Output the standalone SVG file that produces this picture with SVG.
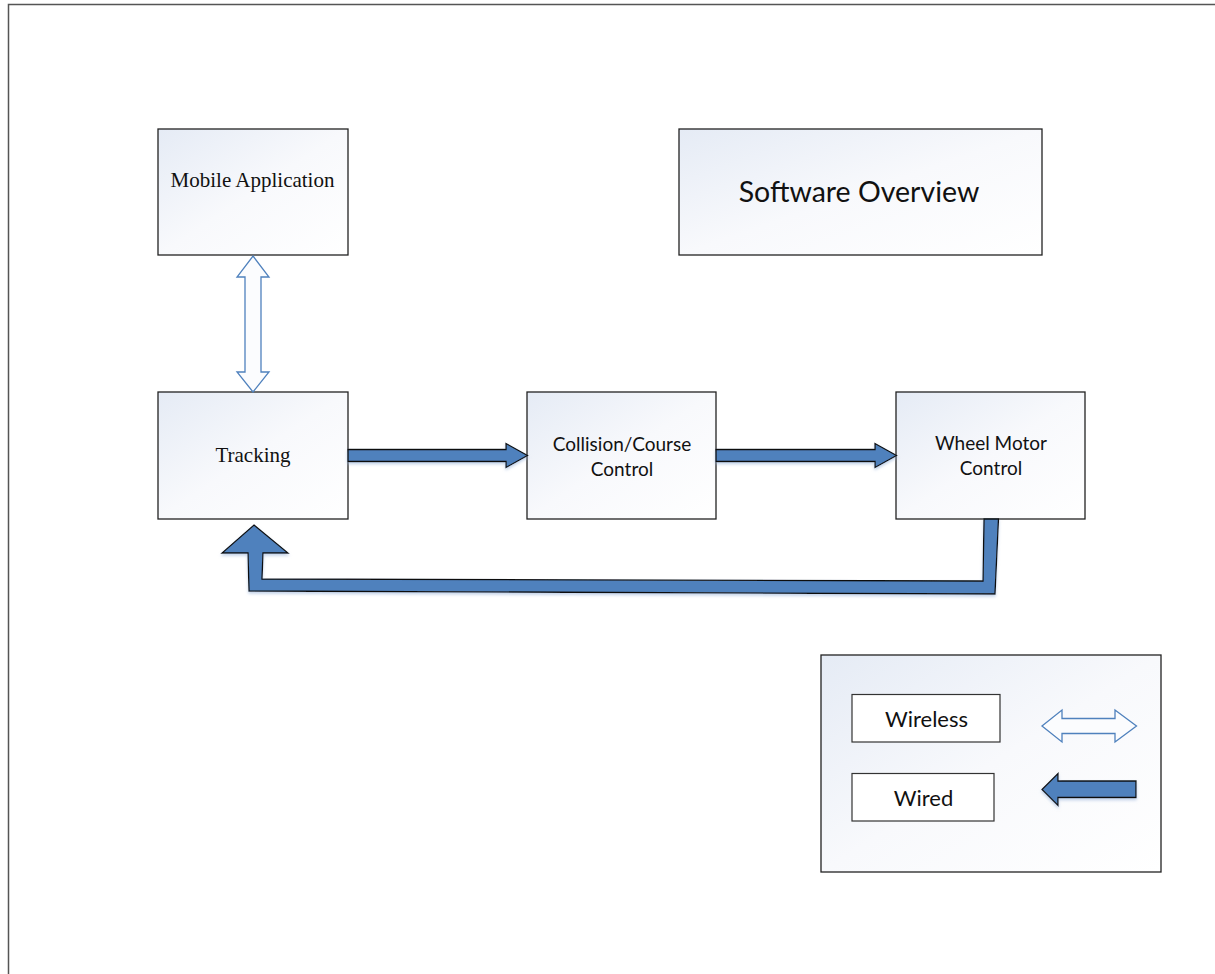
<svg xmlns="http://www.w3.org/2000/svg" width="1215" height="974" viewBox="0 0 1215 974">
<defs>
<linearGradient id="bg" x1="0" y1="0" x2="1" y2="1">
<stop offset="0" stop-color="#e5ebf5"/>
<stop offset="0.5" stop-color="#f8f9fc"/>
<stop offset="1" stop-color="#ffffff"/>
</linearGradient>
<filter id="sh" x="-10%" y="-10%" width="120%" height="130%">
<feDropShadow dx="0" dy="2" stdDeviation="1.5" flood-color="#9bb6dc" flood-opacity="0.6"/>
</filter>
</defs>
<style>
.box{fill:url(#bg);stroke:#222;stroke-width:1.3}
.plain{fill:#fff;stroke:#333;stroke-width:1.2}
.serif{font-family:"Liberation Serif","Times New Roman",serif;fill:#111;text-anchor:middle}
.sans{font-family:Lato,"Open Sans","Liberation Sans",sans-serif;fill:#111;text-anchor:middle}
.wired{fill:#4f81bd;stroke:#111;stroke-width:1.3;stroke-linejoin:miter;filter:url(#sh)}
.wireless{fill:#fbfcfe;stroke:#4f81bd;stroke-width:1.3;stroke-linejoin:miter}
</style>
<rect width="1215" height="974" fill="#fff"/>
<path d="M8.5,974 V4.5 H1215" fill="none" stroke="#555" stroke-width="1.5"/>

<g id="mobile-application">
<rect class="box" x="158" y="129" width="190" height="126"/>
<text class="serif" x="252.5" y="186.5" font-size="21">Mobile Application</text>
</g>
<g id="software-overview">
<rect class="box" x="679" y="129" width="363" height="126"/>
<text class="sans" x="859" y="201.5" font-size="28.5">Software Overview</text>
</g>
<g id="tracking">
<rect class="box" x="158" y="392" width="190" height="127"/>
<text class="serif" x="253" y="461.5" font-size="21">Tracking</text>
</g>
<g id="collision-course-control">
<rect class="box" x="527" y="392" width="189" height="127"/>
<text class="sans" x="622" y="450.5" font-size="19">Collision/Course</text>
<text class="sans" x="622" y="475.5" font-size="19">Control</text>
</g>
<g id="wheel-motor-control">
<rect class="box" x="896" y="392" width="189" height="127"/>
<text class="sans" x="991" y="450" font-size="19">Wheel Motor</text>
<text class="sans" x="991" y="475" font-size="19">Control</text>
</g>

<g id="connectors">
<polygon class="wireless" points="253,256 269,277 261,277 261,372 269,372 253,392 237,372 245,372 245,277 237,277"/>
<polygon class="wired" points="348,449.5 506,449.5 506,443.5 527.5,455.5 506,467.5 506,461.5 348,461.5"/>
<polygon class="wired" points="716,449.5 875,449.5 875,443.5 896.5,455.5 875,467.5 875,461.5 716,461.5"/>
<polygon class="wired" points="254,525 288,553 263,553 262,579 983,581 984,519 998.5,519 995,594 249,591 248,553 222,553"/>
</g>

<g id="legend">
<rect class="box" x="821" y="655" width="340" height="217"/>
<g id="legend-wireless">
<rect class="plain" x="852" y="694.5" width="148" height="47.5"/>
<text class="sans" x="926.5" y="726.5" font-size="22">Wireless</text>
<polygon class="wireless" points="1042,726 1062,710 1062,718.5 1115,718.5 1115,710 1136.5,726 1115,742 1115,733.5 1062,733.5 1062,742"/>
</g>
<g id="legend-wired">
<rect class="plain" x="852" y="773.5" width="142" height="47.5"/>
<text class="sans" x="923.5" y="805.5" font-size="22">Wired</text>
<polygon class="wired" points="1042,789.5 1058,773.5 1058,781 1136,781 1136,797.5 1058,797.5 1058,805.5"/>
</g>
</g>
</svg>
